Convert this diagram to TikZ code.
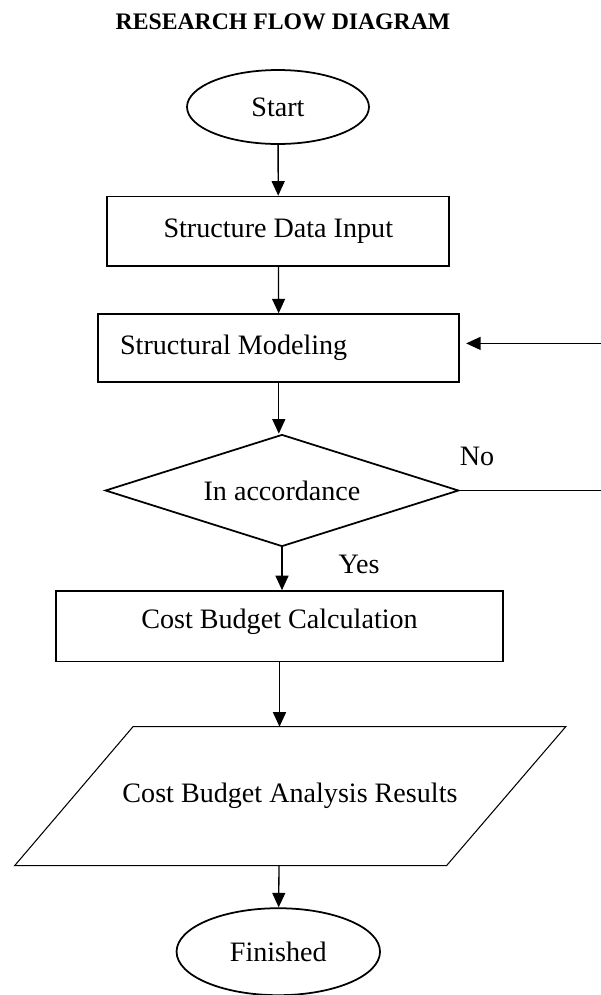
\documentclass[tikz,border=0pt]{standalone}
\usepackage{fontspec}
\setmainfont{Liberation Serif}
\usepackage{tikz}
\usetikzlibrary{shapes.geometric,arrows.meta}

\begin{document}
\begin{tikzpicture}[x=0.02cm, y=-0.02cm,
    font=\fontsize{16}{19}\selectfont,
    term/.style={draw, ellipse, line width=1pt, inner sep=0pt},
    proc/.style={draw, rectangle, line width=1pt, inner sep=0pt},
    decide/.style={draw, diamond, shape aspect=3.16, line width=1pt, inner sep=0pt},
    arr/.style={-{Triangle[length=2.9mm,width=2.6mm]}, line width=0.75pt}]
    \useasboundingbox (0,0) rectangle (601,995);

    \node[font=\bfseries\fontsize{13.5}{17}\selectfont] (title) at (283,22) {RESEARCH FLOW DIAGRAM};

    \node[term, minimum width=3.64cm, minimum height=1.48cm] (start) at (278,107) {Start};
    \node[proc, minimum width=6.84cm, minimum height=1.39cm] (input) at (278.3,231.3) {Structure Data Input};
    \node[proc, minimum width=7.22cm, minimum height=1.35cm, text width=6.35cm, align=flush left] (model) at (278.8,347.9) {Structural Modeling};
    \node[decide, minimum width=7.07cm, minimum height=2.24cm] (check) at (282,490.5) {In accordance};
    \node[proc, minimum width=8.95cm, minimum height=1.41cm, text depth=0.3cm] (calc) at (279.5,626.3) {Cost Budget Calculation};

    % input / output box
    \draw[line width=0.6pt] (14.6,865.7) -- (133,726.7) -- (565.7,726.7) -- (446.5,865.7) -- cycle;
    \node (result) at (290,796) {Cost Budget Analysis Results};
    \coordinate (restop) at (279.5,726.7);
    \coordinate (resbot) at (279,865.7);

    \node[term, minimum width=4.07cm, minimum height=1.74cm] (finish) at (278.3,951.7) {Finished};

    \node (no) at (477,456) {No};
    \node (yes) at (359,564) {Yes};

    \draw[arr] (start) -- (input);
    \draw[arr] (input) -- (model);
    \draw[arr] (model) -- (model |- check.north);
    \draw[arr] (check.south) -- (check.south |- calc.north);
    \draw[arr] (calc) -- (restop);
    \draw[arr] (resbot) -- (finish);

    % loop back when not in accordance
    \coordinate (back) at (604,490.5);
    \draw[arr] (check.east) -- (back) |- ([xshift=0.12cm,yshift=0.09cm]model.east);
\end{tikzpicture}
\end{document}
